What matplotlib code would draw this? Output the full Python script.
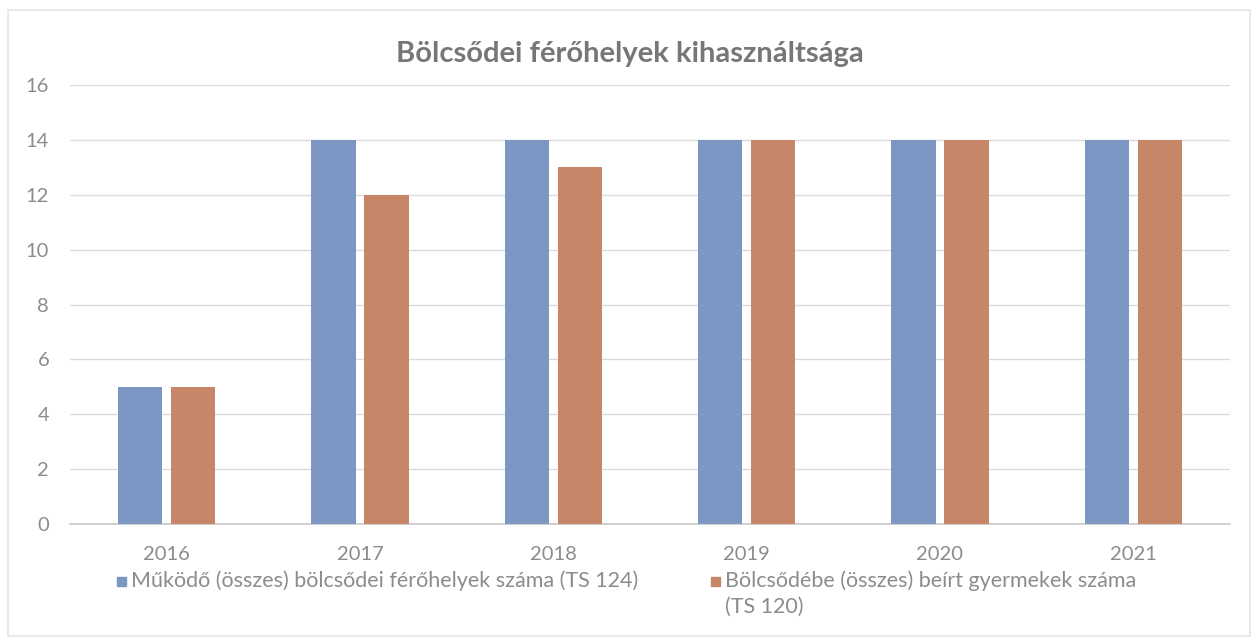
import matplotlib
matplotlib.use("Agg")
import matplotlib.pyplot as plt
from matplotlib.patches import Rectangle
import numpy as np

plt.rcParams['font.family'] = ['Lato', 'DejaVu Sans']

years = ["2016", "2017", "2018", "2019", "2020", "2021"]
ferohelyek = [5, 14, 14, 14, 14, 14]
beirt = [5, 12, 13, 14, 14, 14]
series_names = ["Működő (összes) bölcsődei férőhelyek száma (TS 124)",
                "Bölcsődébe (összes) beírt gyermekek száma\n(TS 120)"]
yticks = [0, 2, 4, 6, 8, 10, 12, 14, 16]
title = "Bölcsődei férőhelyek kihasználtsága"

blue = "#7d97c4"
orange = "#c68667"
gray_text = "#8c8c8c"

W, H = 1255, 640
fig = plt.figure(figsize=(W / 100, H / 100), dpi=100)
fig.patch.set_facecolor("white")

def fx(px):
    return px / W

def fy(py):
    return 1 - py / H

ax = fig.add_axes([fx(70), fy(524), fx(1230) - fx(70), fy(85) - fy(524)])
x = np.arange(len(years))
bw = 0.228
off = 0.137
ax.bar(x - off, ferohelyek, bw, color=blue, zorder=3)
ax.bar(x + off, beirt, bw, color=orange, zorder=3)

ax.set_xlim(-0.5, len(years) - 0.5)
ax.set_ylim(0, 16)
ax.set_yticks(yticks)
ax.set_yticklabels([str(v) for v in yticks], fontsize=14.5, color=gray_text)
ax.set_xticks(x)
ax.set_xticklabels(years, fontsize=14.5, color=gray_text)
ax.tick_params(axis='both', length=0)
ax.tick_params(axis='y', pad=15)
ax.tick_params(axis='x', pad=16)
ax.grid(axis='y', color="#dcdcdc", linewidth=1, zorder=0)
for s in ["top", "right", "left"]:
    ax.spines[s].set_visible(False)
ax.spines["bottom"].set_color("#c8c8c8")
ax.spines["bottom"].set_linewidth(1.2)
ax.set_facecolor("white")

fig.text(fx(630), fy(54), title, ha="center", va="center", fontsize=21,
         fontweight="bold", color="#777777")

# legend (manual)
sq = 9
line1_y = 581
line2_y = 607
fs_leg = 15.5
fig.patches.append(Rectangle((fx(117), fy(line1_y + sq / 2)), sq / W, sq / H, transform=fig.transFigure,
                             color=blue, figure=fig))
fig.text(fx(131), fy(line1_y), series_names[0], ha="left", va="center", fontsize=fs_leg, color=gray_text)
fig.patches.append(Rectangle((fx(711), fy(line1_y + sq / 2)), sq / W, sq / H, transform=fig.transFigure,
                             color=orange, figure=fig))
fig.text(fx(725), fy(line1_y), series_names[1].split("\n")[0], ha="left", va="center", fontsize=fs_leg, color=gray_text)
fig.text(fx(725), fy(line2_y), series_names[1].split("\n")[1], ha="left", va="center", fontsize=fs_leg, color=gray_text)

# outer border
fig.patches.append(Rectangle((fx(8), fy(636)), (1250 - 8) / W, (636 - 10) / H, transform=fig.transFigure,
                             fill=False, edgecolor="#e4e4ea", linewidth=1.2, figure=fig))

fig.savefig("out.png", dpi=100, facecolor="white")
